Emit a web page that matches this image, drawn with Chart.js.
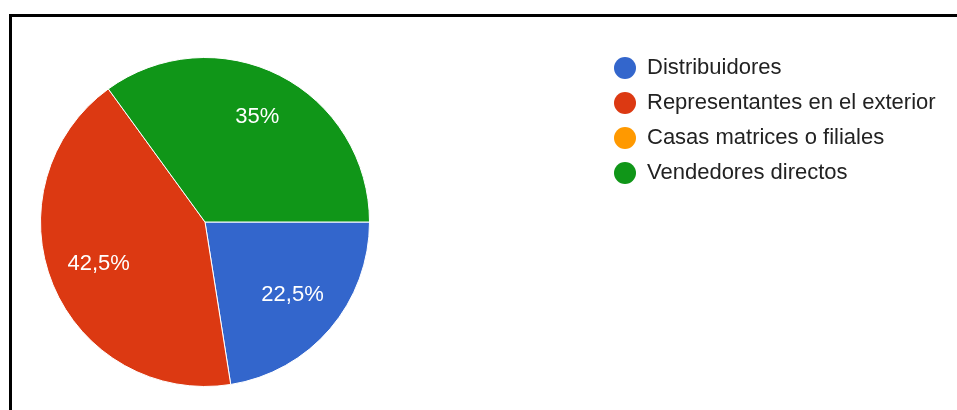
<!DOCTYPE html>
<html>
<head>
<meta charset="utf-8">
<script src="https://cdn.jsdelivr.net/npm/chart.js@4.4.1/dist/chart.umd.min.js"></script>
<style>
  body { margin: 0; background: #fff; }
  #wrap { position: relative; width: 957px; height: 410px; overflow: hidden; }
  #frame { position: absolute; left: 9px; top: 14px; width: 960px; height: 420px;
           border-top: 3px solid #000; border-left: 3px solid #000; box-sizing: border-box; }
  #pie { position: absolute; left: 0; top: 0; }
</style>
</head>
<body>
<div id="wrap">
  <div id="frame"></div>
  <canvas id="pie" width="957" height="410"></canvas>
</div>
<script>
const categorias = ['Distribuidores', 'Representantes en el exterior', 'Casas matrices o filiales', 'Vendedores directos'];
const respuestas = [9, 17, 0, 14];
const colores = ['#3366cc', '#dc3912', '#ff9900', '#109618'];

const fuente = '"Liberation Sans", Arial, sans-serif';

// porcentajes dentro de las porciones
const etiquetas = {
  id: 'etiquetas',
  afterDatasetsDraw(chart) {
    const ctx = chart.ctx;
    const total = respuestas.reduce((a, b) => a + b, 0);
    const meta = chart.getDatasetMeta(0);
    ctx.save();
    ctx.fillStyle = '#fff';
    ctx.font = '22px ' + fuente;
    ctx.textAlign = 'center';
    ctx.textBaseline = 'middle';
    meta.data.forEach((arc, i) => {
      if (!respuestas[i]) return;
      const p = arc.getProps(['x', 'y', 'startAngle', 'endAngle', 'outerRadius']);
      const mid = (p.startAngle + p.endAngle) / 2;
      const r = p.outerRadius * 0.7;
      const txt = (respuestas[i] / total * 100).toLocaleString('es-ES', {maximumFractionDigits: 1}) + '%';
      ctx.fillText(txt, p.x + Math.cos(mid) * r, p.y + Math.sin(mid) * r - 2);
    });
    ctx.restore();
  }
};

// leyenda a la derecha
const leyenda = {
  id: 'leyenda',
  afterDraw(chart) {
    const ctx = chart.ctx;
    ctx.save();
    ctx.font = '22px ' + fuente;
    ctx.textBaseline = 'middle';
    categorias.forEach((c, i) => {
      const y = 68 + i * 35;
      ctx.fillStyle = colores[i];
      ctx.beginPath();
      ctx.arc(625, y, 11, 0, Math.PI * 2);
      ctx.fill();
      ctx.fillStyle = '#222';
      ctx.fillText(c, 647, y);
    });
    ctx.restore();
  }
};

new Chart(document.getElementById('pie'), {
  type: 'pie',
  data: {
    labels: categorias,
    datasets: [{
      data: respuestas,
      backgroundColor: colores,
      borderColor: '#fff',
      borderWidth: 1
    }]
  },
  options: {
    responsive: false,
    animation: false,
    rotation: 90,
    layout: { padding: { left: 40, top: 57, right: 587, bottom: 23 } },
    plugins: {
      legend: { display: false },
      tooltip: { enabled: false }
    }
  },
  plugins: [etiquetas, leyenda]
});
</script>
</body>
</html>
